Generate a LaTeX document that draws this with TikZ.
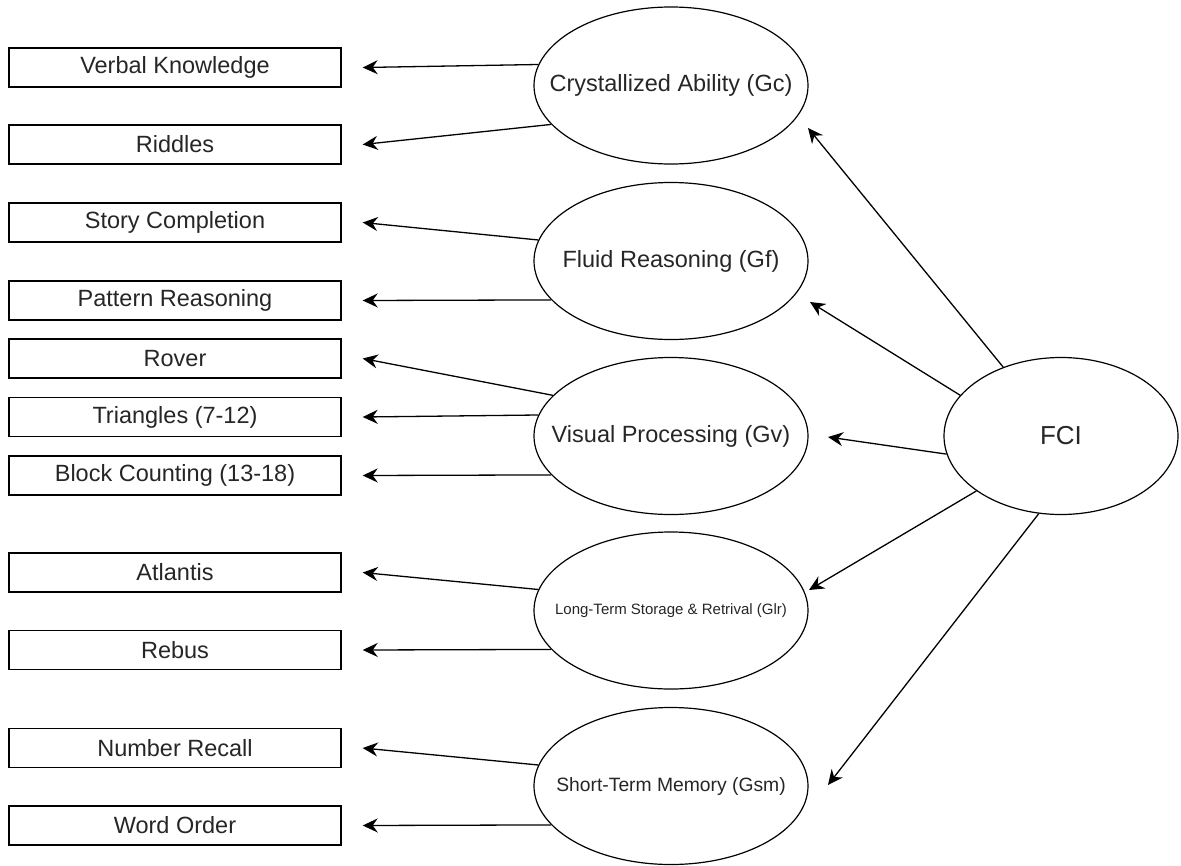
\documentclass[tikz,border=0pt]{standalone}
\usepackage{fontspec}
\setmainfont{Liberation Sans}
\usetikzlibrary{shapes.geometric,arrows.meta,calc}
\newcommand{\zw}[1]{\makebox[0pt][c]{#1}}
\begin{document}
\begin{tikzpicture}[x=1pt,y=-1pt,
  testbox/.style={draw, line width=1.4pt, minimum width=332pt, minimum height=39pt, inner sep=0pt,
    font=\fontsize{23.5}{28}\selectfont, text=black!85},
  factor/.style={ellipse, draw, line width=1.2pt, minimum width=274pt, minimum height=157pt, inner sep=0pt,
    font=\fontsize{23.5}{28}\selectfont, text=black!85},
  conn/.style={line width=1.3pt, -{Stealth[length=15pt,width=14pt,inset=5pt]}}
]
\useasboundingbox (0,0) rectangle (1181,865);

% boxes
\node[testbox] (vk) at (175,67.5) {Verbal Knowledge};
\node[testbox] (rid) at (175,144.5) {Riddles};
\node[testbox] (sc) at (175,222.5) {Story Completion};
\node[testbox] (pr) at (175,300.5) {Pattern Reasoning};
\node[testbox] (rov) at (175,358.5) {Rover};
\node[testbox] (tri) at (175,417) {Triangles (7-12)};
\node[testbox] (bc) at (175,475.5) {Block Counting (13-18)};
\node[testbox] (atl) at (175,572.5) {Atlantis};
\node[testbox] (reb) at (175,650) {Rebus};
\node[testbox] (nr) at (175,748) {Number Recall};
\node[testbox] (wo) at (175,825.5) {Word Order};

% factors
\node[factor] (gc) at (671,85.5) {\zw{Crystallized Ability (Gc)}};
\node[factor] (gf) at (671,261) {\zw{Fluid Reasoning (Gf)}};
\node[factor] (gv) at (671,436) {\zw{Visual Processing (Gv)}};
\node[factor, font=\fontsize{15}{18}\selectfont] (glr) at (671,610.5) {\zw{Long-Term Storage \& Retrival (Glr)}};
\node[factor, font=\fontsize{19.3}{23}\selectfont] (gsm) at (671,786) {\zw{Short-Term Memory (Gsm)}};
\node[factor, minimum width=234pt, font=\fontsize{26}{31}\selectfont] (fci) at (1061,436) {\zw{FCI}};

% factor -> tests
\draw[conn] (gc.171.9) -- ([xshift=21pt]vk.east);
\draw[conn] (gc.198.45) -- ([xshift=21pt]rid.east);
\draw[conn] (gf.171.9) -- ([xshift=21pt]sc.east);
\draw[conn] (gf.198.45) -- ([xshift=21pt]pr.east);
\draw[conn] (gv.161.26) -- ([xshift=21pt]rov.east);
\draw[conn] (gv.171.9) -- ([xshift=21pt]tri.east);
\draw[conn] (gv.198.45) -- ([xshift=21pt]bc.east);
\draw[conn] (glr.171.9) -- ([xshift=21pt]atl.east);
\draw[conn] (glr.198.45) -- ([xshift=21pt]reb.east);
\draw[conn] (gsm.171.9) -- ([xshift=21pt]nr.east);
\draw[conn] (gsm.198.45) -- ([xshift=21pt]wo.east);

% FCI -> factors
\draw[conn] (fci.130.5) -- ($(gc.center)+(137,42.5)$);
\draw[conn] (fci.158.2) -- ($(gf.center)+(139,41)$);
\draw[conn] (fci.189.6) -- ($(gv.center)+(157,1)$);
\draw[conn] (fci.213.7) -- ($(glr.center)+(138,-20.5)$);
\draw[conn] (fci.254.7) -- ($(gsm.center)+(157,-1)$);
\end{tikzpicture}
\end{document}
